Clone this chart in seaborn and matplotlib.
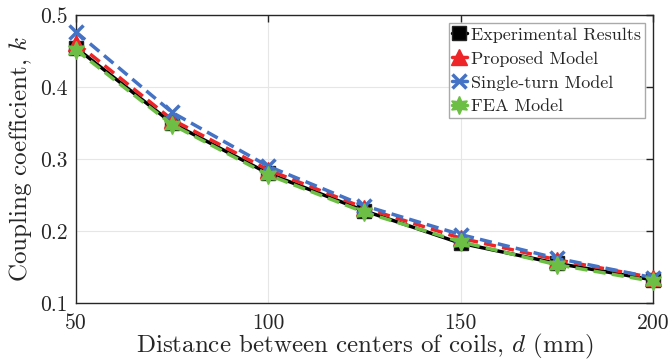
import matplotlib
matplotlib.use("Agg")
import matplotlib.pyplot as plt
import seaborn as sns
import pandas as pd

distance = [50, 75, 100, 125, 150, 175, 200]
experimental = [0.455, 0.350, 0.280, 0.228, 0.183, 0.155, 0.132]
proposed = [0.462, 0.355, 0.285, 0.232, 0.190, 0.160, 0.135]
single_turn = [0.477, 0.365, 0.290, 0.235, 0.195, 0.162, 0.135]
fea = [0.452, 0.348, 0.278, 0.226, 0.185, 0.153, 0.130]
series_names = ["Experimental Results", "Proposed Model", "Single-turn Model", "FEA Model"]
x_ticks = [50, 100, 150, 200]
y_ticks = [0.1, 0.2, 0.3, 0.4, 0.5]

sns.set_style("white")
plt.rcParams["font.family"] = ["cmr10", "DejaVu Serif"]
plt.rcParams["mathtext.fontset"] = "cm"
plt.rcParams["axes.formatter.use_mathtext"] = True

fig, ax = plt.subplots(figsize=(6.71, 3.64), dpi=100)
fig.subplots_adjust(left=0.113, right=0.973, top=0.958, bottom=0.168)

styles = [
    dict(color="black", marker="s", linestyle="-", ms=10, mec="#222222"),
    dict(color="#EE2528", marker="^", linestyle=(0, (3.5, 1.8)), ms=11, mec="#EE2528"),
    dict(color="#4472C4", marker="x", linestyle=(0, (3.5, 1.8)), ms=10, mew=2.5, mec="#4472C4"),
    dict(color="#6DBE45", marker=(6, 1, 0), linestyle=(0, (3.5, 1.8)), ms=13, mec="#6DBE45"),
]
for name, vals, st in zip(series_names, [experimental, proposed, single_turn, fea], styles):
    df = pd.DataFrame({"d": distance, "k": vals})
    sns.lineplot(data=df, x="d", y="k", ax=ax, label=name, color=st["color"],
                 marker=st["marker"], markersize=st["ms"], linewidth=2.5,
                 markeredgecolor=st["mec"], markeredgewidth=st.get("mew", 1),
                 dashes=False, clip_on=False, zorder=3)
    ax.lines[-1].set_linestyle(st["linestyle"])

ax.set_xlim(50, 200)
ax.set_ylim(0.1, 0.5)
ax.set_xticks(x_ticks)
ax.set_yticks(y_ticks)
ax.set_xticklabels([str(t) for t in x_ticks])
ax.set_yticklabels([f"{t:.1f}" for t in y_ticks])
ax.grid(True, color="#e6e6e6", linewidth=0.8)
ax.tick_params(axis="both", direction="in", length=5, width=1, labelsize=15.5,
               top=True, right=True, colors="#262626")
ax.tick_params(axis="x", pad=8)
ax.tick_params(axis="y", pad=6)
for s in ax.spines.values():
    s.set_color("#262626")
    s.set_linewidth(1)
ax.set_xlabel(r"Distance between centers of coils, $d$ (mm)", fontsize=18, labelpad=-1, color="#262626")
ax.set_ylabel(r"Coupling coefficient, $k$", fontsize=18, labelpad=4, color="#262626")

leg = ax.legend(loc="upper right", fontsize=13, handlelength=0.8, handletextpad=0.25,
                borderpad=0.2, labelspacing=0.45, borderaxespad=0.45, fancybox=False,
                framealpha=1, edgecolor="#aaaaaa")
leg.set_zorder(5)
for h in leg.legend_handles:
    h.set_linestyle("-")

fig.savefig("out.png", dpi=100)
